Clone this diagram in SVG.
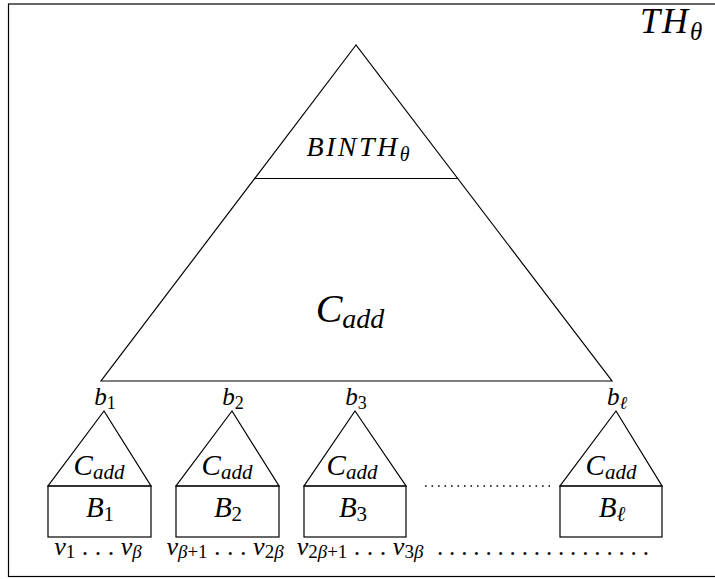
<svg xmlns="http://www.w3.org/2000/svg" width="715" height="579" viewBox="0 0 715 579">
<style>
.ln{fill:none;stroke:#000;stroke-width:1.2;stroke-linejoin:miter}
.dots{fill:none;stroke:#000;stroke-width:1.6;stroke-dasharray:1.6 4.9}
</style>
<rect width="715" height="579" fill="#fff"/>
<g id="frame"><rect class="ln" x="8.5" y="4" width="720" height="572.5"/>
<text font-family="Liberation Serif" font-style="italic" x="640" y="33" font-size="36" letter-spacing="2">TH<tspan font-size="25" dy="7" letter-spacing="0">θ</tspan></text></g>
<g id="top-tree">
<polygon class="ln" points="356,45 101,381 612,381"/>
<line class="ln" x1="255" y1="178.5" x2="458" y2="178.5"/>
<text font-family="Liberation Serif" font-style="italic" x="358" y="156" font-size="28" text-anchor="middle" letter-spacing="2.5">BINTH<tspan font-size="20" dy="5" letter-spacing="0">θ</tspan></text>
<text font-family="Liberation Serif" font-style="italic" x="350" y="322" font-size="40" text-anchor="middle">C<tspan font-size="28" dy="6">add</tspan></text>
</g>
<g id="leaf1">
<text font-family="Liberation Serif" font-style="italic" x="105" y="405" font-size="25" text-anchor="middle">b<tspan font-style="normal" font-size="18" dy="4">1</tspan></text>
<polygon class="ln" points="104,411 48,486 151,486"/>
<rect class="ln" x="48" y="486" width="103" height="51"/>
<text font-family="Liberation Serif" font-style="italic" x="99" y="475" font-size="29" text-anchor="middle">C<tspan font-size="21" dy="4">add</tspan></text>
<text font-family="Liberation Serif" font-style="italic" x="100" y="517" font-size="29" text-anchor="middle">B<tspan font-style="normal" font-size="21" dy="4">1</tspan></text>
<text font-family="Liberation Serif" font-style="italic" x="98" y="555" font-size="26" text-anchor="middle">v<tspan font-style="normal" font-size="19" dy="3">1</tspan><tspan font-style="normal" dy="-3"> . . . </tspan>v<tspan font-size="19" dy="3">β</tspan></text>
</g>
<g id="leaf2">
<text font-family="Liberation Serif" font-style="italic" x="233" y="405" font-size="25" text-anchor="middle">b<tspan font-style="normal" font-size="18" dy="4">2</tspan></text>
<polygon class="ln" points="232,411 176,486 279,486"/>
<rect class="ln" x="176" y="486" width="103" height="51"/>
<text font-family="Liberation Serif" font-style="italic" x="227" y="475" font-size="29" text-anchor="middle">C<tspan font-size="21" dy="4">add</tspan></text>
<text font-family="Liberation Serif" font-style="italic" x="228" y="517" font-size="29" text-anchor="middle">B<tspan font-style="normal" font-size="21" dy="4">2</tspan></text>
<text font-family="Liberation Serif" font-style="italic" x="225" y="555" font-size="26" text-anchor="middle">v<tspan font-size="19" dy="3">β</tspan><tspan font-style="normal" font-size="19">+1</tspan><tspan font-style="normal" dy="-3"> . . . </tspan>v<tspan font-style="normal" font-size="19" dy="3">2</tspan><tspan font-size="19">β</tspan></text>
</g>
<g id="leaf3">
<text font-family="Liberation Serif" font-style="italic" x="356" y="405" font-size="25" text-anchor="middle">b<tspan font-style="normal" font-size="18" dy="4">3</tspan></text>
<polygon class="ln" points="355,411 304,486 406,486"/>
<rect class="ln" x="304" y="486" width="102" height="51"/>
<text font-family="Liberation Serif" font-style="italic" x="352" y="475" font-size="29" text-anchor="middle">C<tspan font-size="21" dy="4">add</tspan></text>
<text font-family="Liberation Serif" font-style="italic" x="353" y="517" font-size="29" text-anchor="middle">B<tspan font-style="normal" font-size="21" dy="4">3</tspan></text>
<text font-family="Liberation Serif" font-style="italic" x="360" y="555" font-size="26" text-anchor="middle">v<tspan font-style="normal" font-size="19" dy="3">2</tspan><tspan font-size="19">β</tspan><tspan font-style="normal" font-size="19">+1</tspan><tspan font-style="normal" dy="-3"> . . . </tspan>v<tspan font-style="normal" font-size="19" dy="3">3</tspan><tspan font-size="19">β</tspan></text>
</g>
<g id="leafL">
<text font-family="Liberation Serif" font-style="italic" x="617" y="405" font-size="25" text-anchor="middle">b<tspan font-size="18" dy="4">ℓ</tspan></text>
<polygon class="ln" points="616,411 560,486 662,486"/>
<rect class="ln" x="560" y="486" width="102" height="51"/>
<text font-family="Liberation Serif" font-style="italic" x="611" y="475" font-size="29" text-anchor="middle">C<tspan font-size="21" dy="4">add</tspan></text>
<text font-family="Liberation Serif" font-style="italic" x="612" y="517" font-size="29" text-anchor="middle">B<tspan font-size="21" dy="4">ℓ</tspan></text>
</g>
<g id="connectors">
<line class="dots" x1="425" y1="486" x2="550" y2="486"/>
<text font-family="Liberation Serif" x="437" y="555" font-size="25" letter-spacing="-0.2">. . . . . . . . . . . . . . . . . .</text>
</g>
</svg>
